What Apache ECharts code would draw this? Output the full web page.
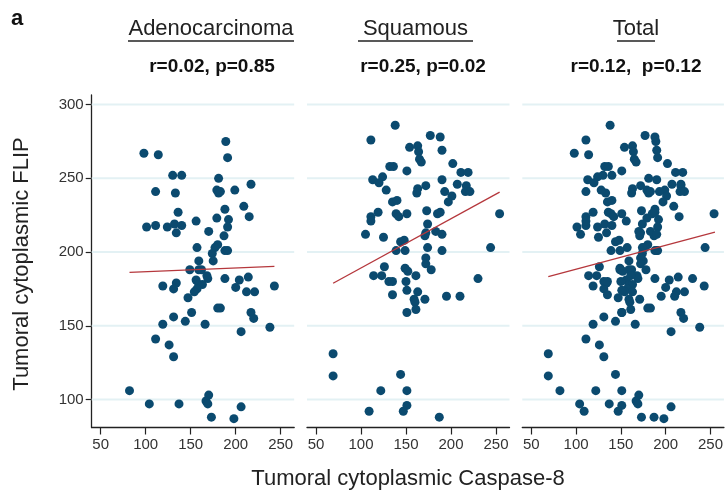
<!DOCTYPE html>
<html>
<head>
<meta charset="utf-8">
<script src="https://cdn.jsdelivr.net/npm/echarts@6/dist/echarts.min.js"></script>
<style>
  html, body { margin: 0; padding: 0; background: #fff; }
  #chart { width: 726px; height: 490px; }
</style>
</head>
<body>
<div id="chart"></div>
<script>
// --------------------------------------------------------------
// Data
// --------------------------------------------------------------

const panelTitles = ["Adenocarcinoma", "Squamous", "Total"];
const panelStats = ["r=0.02, p=0.85", "r=0.25, p=0.02", "r=0.12,  p=0.12"];
const xTicks = [50, 100, 150, 200, 250];
const yTicks = [100, 150, 200, 250, 300];

const adenoX = [189, 98, 114, 191, 130, 140, 181, 217, 111, 133, 179, 181, 199, 183,
  136, 188, 209, 215, 192, 179, 156, 101, 111, 124, 132, 140, 134, 191, 170, 187,
  180, 157, 177, 188, 191, 174, 159, 175, 149, 159, 162, 168, 169, 119, 134, 131,
  156, 159, 163, 157, 154, 147, 188, 204, 214, 200, 212, 221, 243, 180, 183, 131,
  151, 144, 119, 166, 217, 220, 206, 238, 111, 126, 131, 82, 104, 137, 170, 167,
  169, 206, 173, 198];
const adenoY = [275, 267, 266, 264, 252, 252, 250, 246, 241, 240, 242, 240, 242, 241,
  227, 229, 231, 224, 222, 223, 221, 217, 218, 217, 219, 218, 213, 217, 214, 211,
  205, 203, 203, 201, 201, 199, 194, 194, 188, 188, 188, 184, 182, 177, 179, 175,
  181, 178, 178, 175, 173, 169, 182, 181, 183, 176, 173, 173, 177, 162, 162, 156,
  159, 153, 151, 151, 159, 155, 146, 149, 141, 137, 129, 106, 97, 97, 103, 99,
  97, 95, 88, 87];

const squamX = [138, 111, 177, 188, 154, 163, 164, 190, 165, 167, 202, 132, 136, 151,
  211, 219, 113, 124, 120, 190, 207, 217, 128, 163, 172, 162, 193, 216, 221, 201,
  197, 135, 140, 119, 139, 142, 151, 173, 185, 188, 111, 111, 254, 105, 125, 174,
  172, 171, 183, 190, 144, 148, 139, 149, 174, 190, 244, 172, 172, 178, 126, 149,
  152, 114, 123, 131, 135, 150, 161, 230, 135, 151, 163, 159, 160, 171, 161, 151,
  195, 210, 69, 69, 144, 122, 151, 151, 109, 147, 187];
const squamY = [286, 276, 279, 278, 271, 272, 268, 269, 263, 261, 260, 258, 258, 255,
  254, 254, 249, 251, 247, 249, 246, 245, 242, 243, 245, 240, 241, 241, 241, 238,
  234, 234, 235, 227, 226, 224, 226, 228, 226, 227, 224, 221, 226, 212, 210, 219,
  213, 211, 214, 212, 207, 208, 201, 201, 203, 201, 203, 196, 192, 188, 190, 189,
  187, 184, 184, 180, 180, 180, 184, 182, 171, 174, 173, 168, 166, 168, 161, 159,
  170, 170, 131, 116, 117, 106, 106, 96, 92, 92, 88];

// fitted lines: [x start, x end] and [y start, y end]
const adenoFitX = [82, 243];
const adenoFitY = [186.2, 190.3];
const squamFitX = [69, 254];
const squamFitY = [178.8, 240.6];
const totalFitX = [69, 255];
const totalFitY = [183.3, 213.5];

// --------------------------------------------------------------
// Layout helpers
// --------------------------------------------------------------

const FONT = "'Liberation Sans', Arial, sans-serif";
const DOT = "#0b4a6f";
const FIT = "#b5373c";
const GRIDLINE = "#e3f1f4";
const AXIS = "#222";

const X_MIN = 40;
const X_MAX = 265;
const gridLeft = [91.7, 307, 522.3];
const gridTop = 95;
const gridW = 202.5;
const gridH = 332.5;

function pairs(xs, ys) {
  return xs.map((x, i) => [x, ys[i]]);
}

const panelPoints = [
  pairs(adenoX, adenoY),
  pairs(squamX, squamY),
  pairs(adenoX.concat(squamX), adenoY.concat(squamY)),
];
const panelFits = [
  pairs(adenoFitX, adenoFitY),
  pairs(squamFitX, squamFitY),
  pairs(totalFitX, totalFitY),
];

// horizontal reference lines across the full panel, broken between ticks
const refLineData = [];
yTicks.forEach((v) => {
  refLineData.push([X_MIN, v], [X_MAX, v], "-");
});

const grids = [];
const xAxes = [];
const yAxes = [];
const series = [];

for (let i = 0; i < 3; i++) {
  grids.push({ left: gridLeft[i], top: gridTop, width: gridW, height: gridH });

  xAxes.push({
    type: "value",
    gridIndex: i,
    min: X_MIN,
    max: X_MAX,
    axisLine: { show: true, lineStyle: { color: AXIS, width: 1.3 } },
    axisTick: { show: true, length: 7, customValues: xTicks, lineStyle: { color: AXIS, width: 1.2 } },
    axisLabel: { customValues: xTicks, margin: 10, fontSize: 15, color: "#333", fontFamily: FONT },
    splitLine: { show: false },
  });

  yAxes.push({
    type: "value",
    gridIndex: i,
    min: 81,
    max: 306.5,
    axisLine: { show: i === 0, lineStyle: { color: AXIS, width: 1.3 } },
    axisTick: { show: i === 0, length: 6, customValues: yTicks, lineStyle: { color: AXIS, width: 1.2 } },
    axisLabel: { show: i === 0, customValues: yTicks, margin: 8, fontSize: 15, color: "#333", fontFamily: FONT },
    splitLine: { show: false },
  });

  series.push({
    type: "line",
    xAxisIndex: i,
    yAxisIndex: i,
    data: refLineData,
    connectNulls: false,
    symbol: "none",
    z: 1,
    silent: true,
    lineStyle: { color: GRIDLINE, width: 2 },
  });

  series.push({
    type: "scatter",
    xAxisIndex: i,
    yAxisIndex: i,
    data: panelPoints[i],
    symbolSize: 9,
    z: 3,
    itemStyle: { color: DOT, opacity: 1 },
  });

  series.push({
    type: "line",
    xAxisIndex: i,
    yAxisIndex: i,
    data: panelFits[i],
    symbol: "none",
    z: 4,
    lineStyle: { color: FIT, width: 1.3 },
  });
}

// --------------------------------------------------------------
// Texts
// --------------------------------------------------------------

const titleCenters = [211, 415.5, 636];
const titleWidths = [166, 115, 38];
const statCenters = [212, 423, 636];
const graphics = [
  { type: "text", left: 11, top: 8, style: { text: "a", font: "bold 22px " + FONT, fill: "#111" } },
  {
    type: "text", x: 22, y: 264, rotation: Math.PI / 2,
    style: { text: "Tumoral cytoplasmic FLIP", font: "22px " + FONT, fill: "#222", align: "center", verticalAlign: "middle" },
  },
  {
    type: "text", x: 408, y: 479,
    style: { text: "Tumoral cytoplasmic Caspase-8", font: "22px " + FONT, fill: "#222", align: "center", verticalAlign: "middle" },
  },
];
for (let i = 0; i < 3; i++) {
  graphics.push({
    type: "text", x: titleCenters[i], y: 29,
    style: { text: panelTitles[i], font: "22px " + FONT, fill: "#222", align: "center", verticalAlign: "middle" },
  });
  graphics.push({
    type: "line",
    shape: { x1: titleCenters[i] - titleWidths[i] / 2, y1: 41, x2: titleCenters[i] + titleWidths[i] / 2, y2: 41 },
    style: { stroke: "#222", lineWidth: 1.3 },
  });
  graphics.push({
    type: "text", x: statCenters[i], y: 67,
    style: { text: panelStats[i], font: "bold 19px " + FONT, fill: "#111", align: "center", verticalAlign: "middle" },
  });
}

// --------------------------------------------------------------
// Init
// --------------------------------------------------------------

const chart = echarts.init(document.getElementById("chart"), null, { renderer: "canvas" });
chart.setOption({
  animation: false,
  backgroundColor: "#fff",
  grid: grids,
  xAxis: xAxes,
  yAxis: yAxes,
  series: series,
  graphic: graphics,
});
</script>
</body>
</html>
